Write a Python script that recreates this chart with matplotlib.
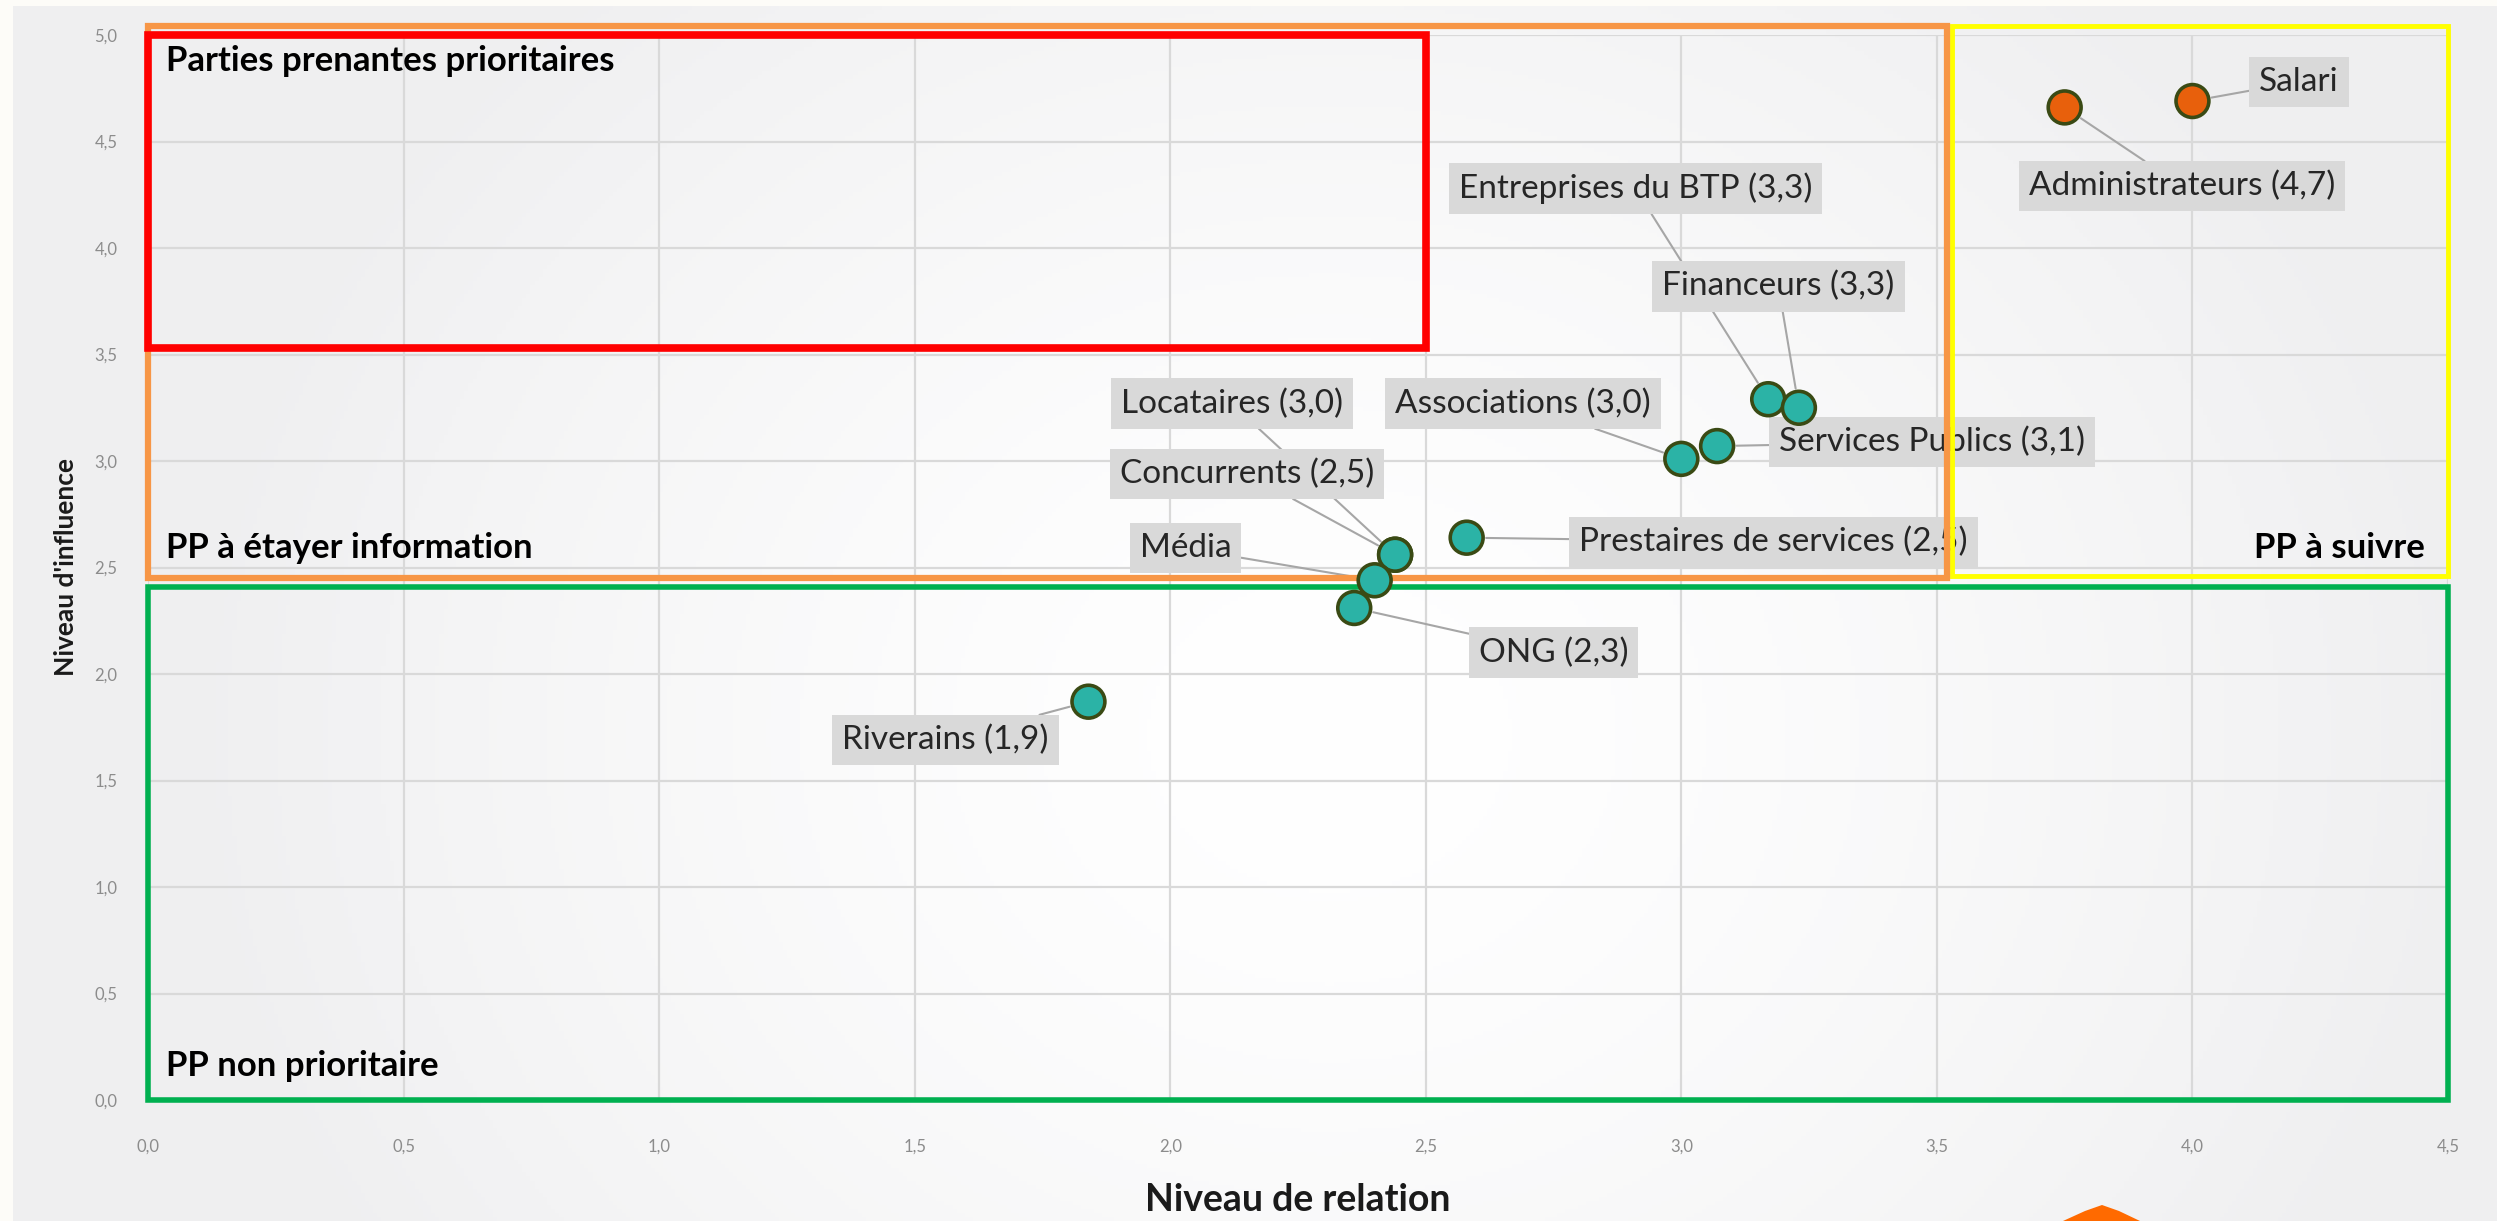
import numpy as np
import matplotlib
matplotlib.use("Agg")
from matplotlib import pyplot as plt
from matplotlib.patches import Rectangle, Polygon
from matplotlib.ticker import FuncFormatter, MultipleLocator

plt.rcParams['font.family'] = ['Lato', 'DejaVu Sans']

# stakeholder data (x = niveau de relation, y = niveau d'influence)
names = ["Salari", "Administrateurs (4,7)", "Entreprises du BTP (3,3)", "Financeurs (3,3)",
         "Services Publics (3,1)", "Associations (3,0)", "Locataires (3,0)",
         "Prestaires de services (2,5)", "Concurrents (2,5)", "Média", "ONG (2,3)",
         "Riverains (1,9)"]
relation = [4.00, 3.75, 3.17, 3.23, 3.07, 3.00, 2.44, 2.58, 2.44, 2.40, 2.36, 1.84]
influence = [4.69, 4.66, 3.29, 3.25, 3.07, 3.01, 2.56, 2.64, 2.56, 2.44, 2.31, 1.87]
groups = ["high", "high", "mid", "mid", "mid", "mid", "mid", "mid", "mid", "mid", "mid", "mid"]

# label box positions (layout only)
label_pos = {
    "Salari": (4.13, 4.78, "left"),
    "Administrateurs (4,7)": (3.98, 4.29, "center"),
    "Entreprises du BTP (3,3)": (2.91, 4.28, "center"),
    "Financeurs (3,3)": (3.19, 3.82, "center"),
    "Services Publics (3,1)": (3.49, 3.09, "center"),
    "Associations (3,0)": (2.69, 3.27, "center"),
    "Locataires (3,0)": (2.12, 3.27, "center"),
    "Prestaires de services (2,5)": (3.18, 2.62, "center"),
    "Concurrents (2,5)": (2.15, 2.94, "center"),
    "Média": (2.03, 2.59, "center"),
    "ONG (2,3)": (2.75, 2.10, "center"),
    "Riverains (1,9)": (1.56, 1.69, "center"),
}

fill = {"high": "#e8600c", "mid": "#2bb3a6"}

W, H, DPI = 2497, 1221, 100
fig = plt.figure(figsize=(W / DPI, H / DPI), dpi=DPI)
fig.patch.set_facecolor("#fdfcf8")

# slide background with a soft light centre
bg = fig.add_axes([13 / W, 0, 1 - 13 / W, 1 - 6 / H])
yy, xx = np.mgrid[0:1:300j, 0:1:600j]
r = np.sqrt(((xx - 0.53) / 0.45) ** 2 + ((yy - 0.40) / 0.80) ** 2)
shade = np.clip(r, 0, 1) ** 1.5
c0 = np.array([1.0, 1.0, 1.0])
c1 = np.array([0.94, 0.94, 0.945])
img = c0[None, None, :] * (1 - shade[..., None]) + c1[None, None, :] * shade[..., None]
bg.imshow(img, extent=[0, 1, 0, 1], aspect="auto", origin="lower")
bg.axis("off")
bg.set_zorder(-10)
# orange slide decoration at the bottom
fig.patches.append(Polygon([[2063, 0], [2085, 10], [2102, 16], [2119, 10], [2140, 0]],
                           closed=True, transform=None, facecolor="#ff6a00",
                           edgecolor="none", zorder=5))

ax = fig.add_axes([148 / W, 1 - 1100 / H, 2300 / W, 1065 / H])
ax.set_facecolor("none")
ax.set_xlim(0, 4.5)
ax.set_ylim(0, 5.0)
ax.xaxis.set_major_locator(MultipleLocator(0.5))
ax.yaxis.set_major_locator(MultipleLocator(0.5))
fmt = FuncFormatter(lambda v, p: ("%.1f" % v).replace(".", ","))
ax.xaxis.set_major_formatter(fmt)
ax.yaxis.set_major_formatter(fmt)
ax.grid(True, color="#d9d9d9", lw=1.6, zorder=0)
ax.set_axisbelow(True)
for s in ax.spines.values():
    s.set_visible(False)
ax.tick_params(length=0, labelsize=12, colors="#8c8c8c")
ax.tick_params(axis="x", pad=28)
ax.tick_params(axis="y", pad=22)
ax.set_xlabel("Niveau de relation", fontsize=27, fontweight="bold", color="#1a1a1a", labelpad=20)
ax.set_ylabel("Niveau d'influence", fontsize=19, fontweight="bold", color="#1a1a1a", labelpad=12)

# zone rectangles
zones = [
    ((0, 0), 4.5, 2.41, "#00b050", 4.0),
    ((3.53, 2.46), 0.97, 2.58, "#ffff00", 3.5),
    ((0, 2.45), 3.52, 2.59, "#f79646", 4.5),
    ((0, 3.53), 2.5, 1.47, "#ff0000", 5.5),
]
for xy, w, h, col, lw in zones:
    ax.add_patch(Rectangle(xy, w, h, fill=False, edgecolor=col, lw=lw,
                           clip_on=False, zorder=4, joinstyle="miter"))

ax.text(0.035, 4.88, "Parties prenantes prioritaires", fontsize=25, fontweight="bold",
        va="center", ha="left", zorder=6)
ax.text(0.035, 2.59, "PP à étayer information", fontsize=25, fontweight="bold",
        va="center", ha="left", zorder=6)
ax.text(4.455, 2.59, "PP à suivre", fontsize=25, fontweight="bold",
        va="center", ha="right", zorder=6)
ax.text(0.035, 0.16, "PP non prioritaire", fontsize=25, fontweight="bold",
        va="center", ha="left", zorder=6)

# labels with leader lines
for n, x, y in zip(names, relation, influence):
    lx, ly, ha = label_pos[n]
    ax.annotate(n, xy=(x, y), xytext=(lx, ly), ha=ha, va="center",
                fontsize=24, color="#262626", zorder=3,
                bbox=dict(boxstyle="square,pad=0.3", fc="#d9d9d9", ec="none"),
                arrowprops=dict(arrowstyle="-", color="#a6a6a6", lw=1.5,
                                shrinkA=0, shrinkB=14))

ax.scatter(relation, influence, s=560, c=[fill[g] for g in groups],
           edgecolors="#3a4a14", linewidths=2.6, zorder=8, clip_on=False)

fig.savefig("out.png", dpi=DPI, facecolor=fig.get_facecolor())
